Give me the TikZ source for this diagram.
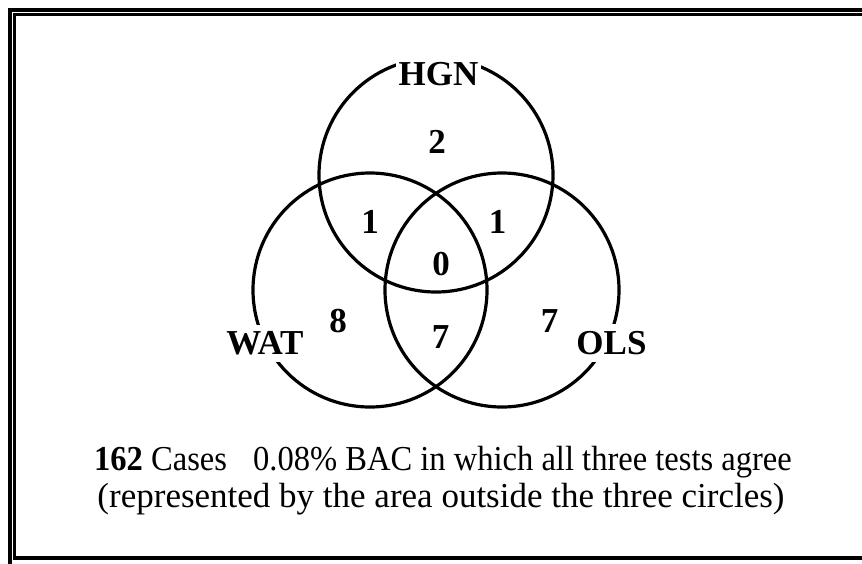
\documentclass[tikz,border=0pt]{standalone}
\usepackage{graphicx}
\usepackage{fontspec}
\setmainfont{Liberation Serif}
\begin{document}
\begin{tikzpicture}[x=1pt,y=-1pt,
  vset/.style={circle, draw=black, line width=3.2pt, minimum size=234pt, inner sep=0pt},
  setlabel/.style={fill=white, inner xsep=3pt, inner ysep=7pt, font=\fontsize{35}{37}\selectfont\bfseries},
  count/.style={inner sep=0pt, font=\fontsize{35}{37}\selectfont\bfseries},
  caption/.style={inner sep=0pt, anchor=base, font=\fontsize{35}{37}\selectfont},
  frame/.style={draw=black, line width=3.5pt}]
\useasboundingbox (0,0) rectangle (862,563);
\clip (0,0) rectangle (862,563);
\fill[white] (0,0) rectangle (862,563);
% frame (double line, right and bottom parts cut off)
\draw[frame] (9.75,9.75) rectangle (880,590);
\draw[frame] (14.5,14.5) rectangle (875,558);
% circles
\node[vset] (chgn) at (436,175) {};
\node[vset] (cwat) at (370,290) {};
\node[vset] (cols) at (502,290) {};
% set labels
\node[setlabel] (lhgn) at (438.5,74) {HGN};
\node[setlabel] (lwat) at (265,343.5) {WAT};
\node[setlabel] (lols) at (611.5,343) {OLS};
% counts
\node[count] (n2) at (437,142) {2};
\node[count] (n1a) at (370,222) {1};
\node[count] (n1b) at (497.5,222) {1};
\node[count] (n0) at (441,264.5) {0};
\node[count] (n8) at (338,321) {8};
\node[count] (n7a) at (440.5,337.5) {7};
\node[count] (n7b) at (549.5,321) {7};
% caption
\node[caption] (cap1) at (443,470) {\scalebox{0.93}[1]{\textbf{162} Cases\hspace{0.8em}0.08\% BAC in which all three tests agree}};
\node[caption] (cap2) at (441,507) {(represented by the area outside the three circles)};
\end{tikzpicture}
\end{document}
